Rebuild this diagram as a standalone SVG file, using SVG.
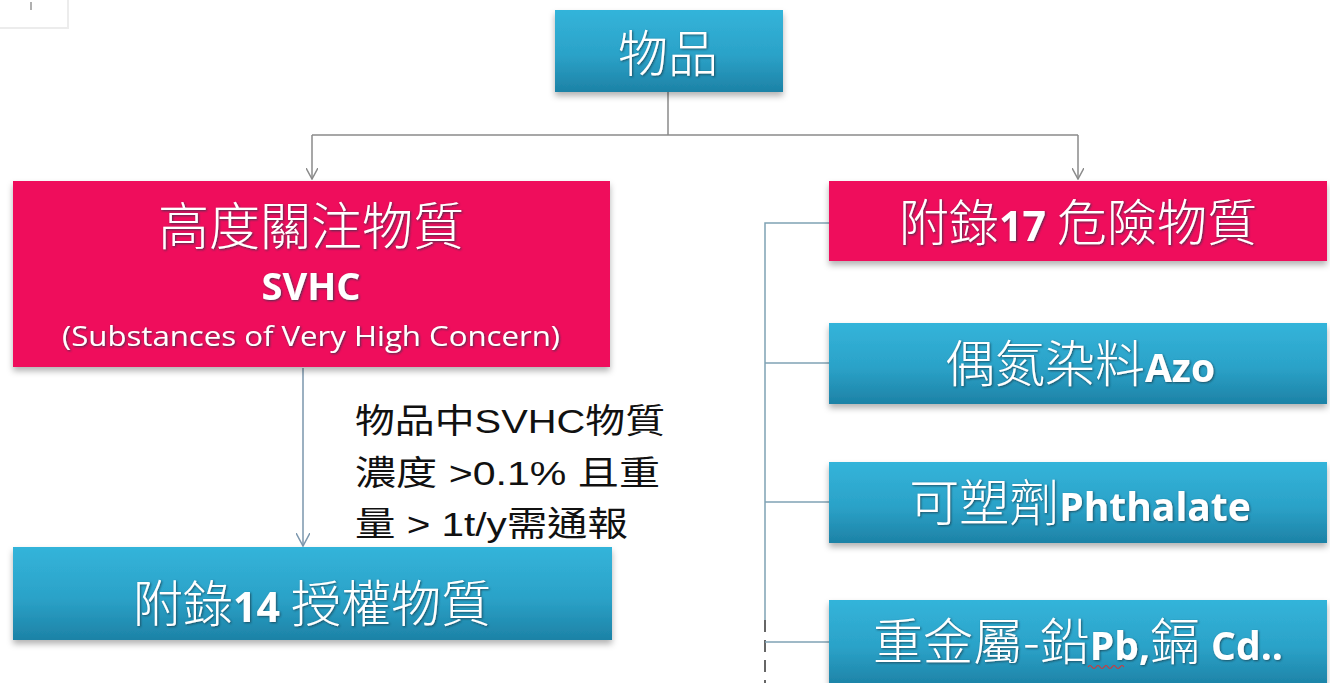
<svg xmlns="http://www.w3.org/2000/svg" width="1330" height="683" viewBox="0 0 1330 683">
  <defs>
    <linearGradient id="blue" x1="0" y1="0" x2="0" y2="1">
      <stop offset="0" stop-color="#33b4da"/>
      <stop offset="0.55" stop-color="#2ba2c8"/>
      <stop offset="1" stop-color="#1d82a6"/>
    </linearGradient>
    <filter id="boxShadow" x="-5%" y="-10%" width="110%" height="130%">
      <feDropShadow dx="0" dy="4" stdDeviation="3" flood-color="#000" flood-opacity="0.3"/>
    </filter>
    <filter id="txtGlow" x="-5%" y="-20%" width="110%" height="140%">
      <feDropShadow dx="1" dy="1" stdDeviation="1.2" flood-color="#1a3a4a" flood-opacity="0.8"/>
    </filter>
    <marker id="arrow" viewBox="0 0 12 12" refX="11" refY="6" markerWidth="12" markerHeight="12" markerUnits="userSpaceOnUse" orient="auto">
      <path d="M0,0 L11,6 L0,12" fill="none" stroke="#8a8a8a" stroke-width="1.5"/>
    </marker>
    <marker id="arrowBlue" viewBox="0 0 14 14" refX="13" refY="7" markerWidth="14" markerHeight="14" markerUnits="userSpaceOnUse" orient="auto">
      <path d="M0,0 L13,7 L0,14" fill="none" stroke="#7a96ad" stroke-width="1.5"/>
    </marker>
  </defs>
  <style>
    .pink { fill: #ef0a5c; filter: url(#boxShadow); }
    .blue { fill: url(#blue); filter: url(#boxShadow); }
    .lbl { fill: #ffffff; font-family: "Noto Sans CJK TC", "Noto Sans CJK SC", sans-serif; font-weight: 300; text-anchor: middle; filter: url(#txtGlow); }
    .lat { font-family: "Open Sans", "Liberation Sans", sans-serif; font-weight: 700; }
    .note { fill: #111111; font-family: "Liberation Sans", "Noto Sans CJK TC", sans-serif; font-size: 34px; }
    .conn { fill: none; stroke: #8a8a8a; stroke-width: 1.5; }
    .br { fill: none; stroke: #7fa2b4; stroke-width: 1.5; }
  </style>

  <rect x="0" y="0" width="1330" height="683" fill="#ffffff"/>
  <!-- faint corner remnant -->
  <path d="M0,28 H68 V0" fill="none" stroke="#ececec" stroke-width="2"/>
  <line x1="31" y1="2" x2="31" y2="10" stroke="#b0b0b0" stroke-width="2"/>

  <g id="connectors">
    <path class="conn" d="M668,92 V135"/>
    <path class="conn" d="M312,135 H1078"/>
    <path class="conn" d="M312,135 V179" marker-end="url(#arrow)"/>
    <path class="conn" d="M1078,135 V179" marker-end="url(#arrow)"/>
    <path d="M303,368 V546" fill="none" stroke="#7a96ad" stroke-width="1.5" marker-end="url(#arrowBlue)"/>
    <path class="br" d="M829,223 H765 V620"/>
    <path d="M765,620 V683" fill="none" stroke="#666" stroke-width="2" stroke-dasharray="12,8"/>
    <path class="br" d="M765,363 H829"/>
    <path class="br" d="M765,502 H829"/>
    <path class="br" d="M765,642 H829"/>
  </g>

  <g id="node-goods">
    <rect class="blue" x="555" y="10" width="228" height="82"/>
    <text class="lbl" x="668" y="72" font-size="50">物品</text>
  </g>

  <g id="node-svhc">
    <rect class="pink" x="13" y="181" width="597" height="186"/>
    <text class="lbl" x="311" y="245" font-size="51">高度關注物質</text>
    <text class="lbl lat" x="311" y="300" font-size="38">SVHC</text>
    <text class="lbl" x="311" y="346" font-size="28" style="font-family:'Open Sans','Liberation Sans',sans-serif;font-weight:400" textLength="498" lengthAdjust="spacingAndGlyphs">(Substances of Very High Concern)</text>
  </g>

  <g id="node-note">
    <text class="note" x="355" y="433" textLength="310" lengthAdjust="spacingAndGlyphs">物品中SVHC物質</text>
    <text class="note" x="355" y="485" textLength="305" lengthAdjust="spacingAndGlyphs">濃度 &gt;0.1% 且重</text>
    <text class="note" x="355" y="536" textLength="273" lengthAdjust="spacingAndGlyphs">量 &gt; 1t/y需通報</text>
  </g>

  <g id="node-annex14">
    <rect class="blue" x="13" y="547" width="599" height="93"/>
    <text class="lbl" x="312" y="622" font-size="50">附錄<tspan class="lat" font-size="41">14</tspan> 授權物質</text>
  </g>

  <g id="node-annex17">
    <rect class="pink" x="829" y="181" width="498" height="80"/>
    <text class="lbl" x="1078" y="241" font-size="50">附錄<tspan class="lat" font-size="41">17</tspan> 危險物質</text>
  </g>

  <g id="node-azo">
    <rect class="blue" x="829" y="323" width="498" height="81"/>
    <text class="lbl" x="1080" y="382" font-size="50">偶氮染料<tspan class="lat" font-size="39">Azo</tspan></text>
  </g>

  <g id="node-phthalate">
    <rect class="blue" x="829" y="462" width="498" height="81"/>
    <text class="lbl" x="1080" y="521" font-size="50">可塑劑<tspan class="lat" font-size="39">Phthalate</tspan></text>
  </g>

  <g id="node-metal">
    <rect class="blue" x="829" y="600" width="498" height="86"/>
    <text class="lbl" x="1078" y="660" font-size="50">重金屬-鉛<tspan class="lat" font-size="39">Pb,</tspan>鎘 <tspan class="lat" font-size="39">Cd..</tspan></text>
    <path d="M1088,667 q2,-3 4,0 t4,0 t4,0 t4,0 t4,0 t4,0 t4,0 t4,0 t4,0" fill="none" stroke="#d33" stroke-width="1.2"/>
  </g>
</svg>
